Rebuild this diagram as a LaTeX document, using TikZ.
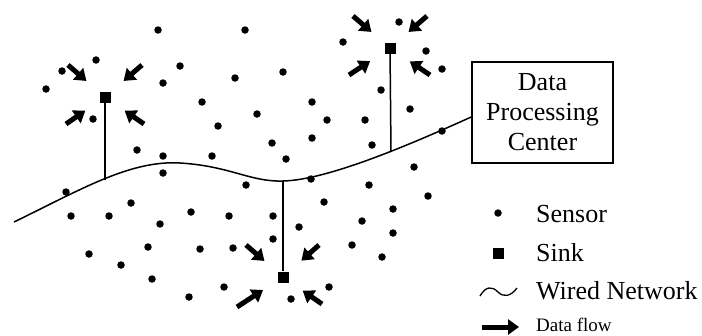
\documentclass[tikz,border=0pt]{standalone}
\usepackage{fontspec}
\setmainfont{Liberation Serif}
\usetikzlibrary{arrows.meta}
\begin{document}
\begin{tikzpicture}[x=1pt,y=-1pt,
  sensor/.style={circle,fill=black,inner sep=0pt,minimum size=7.5pt},
  sinknode/.style={rectangle,fill=black,inner sep=0pt,minimum size=11pt},
  wire/.style={line width=1.5pt},
  flowtip/.style={-{Triangle[length=11pt,width=15pt]}},
  flow/.style={line width=5pt,flowtip,shorten >=17pt},
  bigtext/.style={font=\fontsize{26}{30}\selectfont},
  smalltext/.style={font=\fontsize{19}{22}\selectfont}]
\useasboundingbox (0,0) rectangle (702,335);
% sensors
\foreach \p [count=\i] in {(158,30),(96,60),(62,71),(46,89),(180,66),(163,83),(235,78),(202,102),(218,126),(93,119),(137,150),(163,156),(212,156),(245,30),(343,42),(399,22),(426,51),(442,69),(283,72),(381,90),(312,102),(257,114),(327,120),(365,120),(410,109),(272,143),(312,138),(372,145),(286,159),(442,131),(414,167),(66,192),(163,173),(131,203),(71,216),(109,216),(160,224),(191,212),(229,216),(89,254),(148,247),(200,249),(233,248),(121,265),(152,279),(224,287),(189,297),(246,185),(311,179),(369,185),(428,196),(324,202),(393,209),(273,216),(362,221),(299,227),(393,233),(273,239),(352,245),(382,257),(329,287),(291,299)}
  \node[sensor] (sen\i) at \p {};
% data processing center
\node[draw,line width=1.5pt,minimum width=141pt,minimum height=101pt,inner sep=0pt,align=center,bigtext] (dpc) at (542.5,112.5) {Data\\Processing\\Center};
\coordinate (wend) at ([yshift=-4.5pt]dpc.west);
% wired network
\draw[wire] (14,222) .. controls (80,190) and (130,160) .. (180,163)
  .. controls (230,166) and (250,182) .. (283,181)
  .. controls (330,180) and (420,140) .. (wend);
% sinks
\node[sinknode] (sink1) at (105,97) {};
\node[sinknode] (sink2) at (390,48) {};
\node[sinknode] (sink3) at (283,277) {};
\coordinate (t1) at (105,180);
\coordinate (t2) at (391,152);
\coordinate (t3) at (283,181);
\draw[wire] (sink1) -- (t1);
\draw[wire] (sink2) -- (t2);
\draw[wire] (sink3) -- (t3);
% data flow arrows
\foreach \s/\a/\b/\c/\d in {sink1/{(-37,-32)}/{(37,-32)}/{(-39,27)}/{(39,27)},
                            sink2/{(-37,-32)}/{(37,-32)}/{(-41,27)}/{(40,27)},
                            sink3/{(-37,-32)}/{(36,-32)}/{(-46,30)}/{(39,27)}} {
  \coordinate (\s-a) at ([shift={\a}]\s);
  \coordinate (\s-b) at ([shift={\b}]\s);
  \coordinate (\s-c) at ([shift={\c}]\s);
  \coordinate (\s-d) at ([shift={\d}]\s);
  \draw[flow] (\s-a) -- (\s);
  \draw[flow] (\s-b) -- (\s);
  \draw[flow] (\s-c) -- (\s);
  \draw[flow] (\s-d) -- (\s);
}
% legend
\node[sensor] (lsen) at (498,213) {};
\node[anchor=base west,bigtext,inner sep=0pt] (lsentext) at (536,222) {Sensor};
\node[sinknode] (lsink) at (498,253) {};
\node[anchor=base west,bigtext,inner sep=0pt] (lsinktext) at (536,261) {Sink};
\coordinate (lw1) at (480,296);
\coordinate (lw2) at (517,288);
\draw[line width=1.3pt] (lw1) .. controls (486,286) and (492,286) .. (498,292) .. controls (504,298) and (511,296) .. (lw2);
\node[anchor=base west,bigtext,inner sep=0pt] (lwtext) at (536,299) {Wired Network};
\coordinate (lf1) at (482,327);
\coordinate (lf2) at (519,327);
\draw[line width=5pt,flowtip] (lf1) -- (lf2);
\node[anchor=base west,smalltext,inner sep=0pt] (lftext) at (536,331) {Data flow};
\end{tikzpicture}
\end{document}
